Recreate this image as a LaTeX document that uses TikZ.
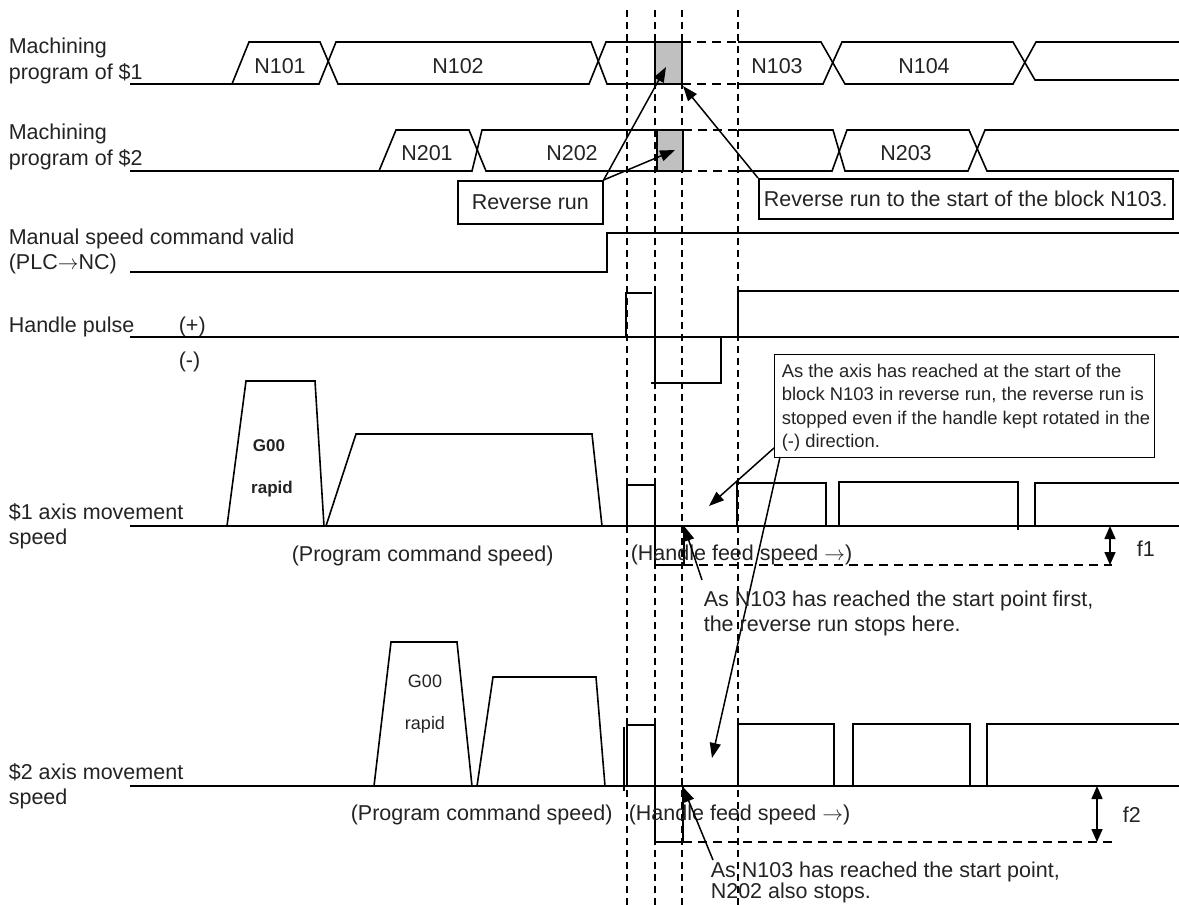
\documentclass[tikz,border=0pt]{standalone}
\usepackage{fontspec}
\setmainfont{Liberation Sans}
\usetikzlibrary{arrows.meta}
\definecolor{boxgray}{RGB}{192,192,192}
\definecolor{ink}{RGB}{35,35,35}
\newcommand{\rarr}{\ensuremath{\rightarrow}}
\begin{document}
\begin{tikzpicture}[x=1pt,y=-1pt,line width=1.6pt,line join=miter,
  vdash/.style={dash pattern=on 7pt off 5pt,line width=1.3pt},
  hdash/.style={dash pattern=on 9pt off 6pt,line width=1.6pt},
  lbl/.style={anchor=base west,inner sep=0pt,text=ink,font=\fontsize{21.5}{26}\selectfont},
  blbl/.style={anchor=base,inner sep=0pt,text=ink,font=\fontsize{21.5}{26}\selectfont},
  slbl/.style={anchor=base,inner sep=0pt,text=ink,font=\fontsize{18}{22}\selectfont},
  sbold/.style={anchor=base,inner sep=0pt,text=ink,font=\bfseries\fontsize{17}{22}\selectfont},
  cbox/.style={draw,line width=1.6pt,anchor=north west,inner sep=0pt,text=ink,font=\fontsize{21.5}{26}\selectfont},
  arr/.style={line width=1.5pt,-{Triangle[length=15pt,width=11pt]}},
  darr/.style={line width=1.5pt,{Triangle[length=13pt,width=11pt]}-{Triangle[length=13pt,width=11pt]}},
  gbox/.style={fill=boxgray,draw,line width=1.6pt}]
\useasboundingbox (0,0) rectangle (1179,905);

% ---------- left labels ----------
\node[lbl] (m1a) at (8,53) {Machining};
\node[lbl] (m1b) at (8,79) {program of \$1};
\node[lbl] (m2a) at (8,139) {Machining};
\node[lbl] (m2b) at (8,165) {program of \$2};
\node[lbl] (msc) at (8,244) {Manual speed command valid};
\node[lbl] (plc) at (8,269) {(PLC\rarr NC)};
\node[lbl] (hp) at (8,332) {Handle pulse};
\node[lbl] (plus) at (178,332) {(+)};
\node[lbl] (minus) at (178,367) {(-)};
\node[lbl] (ax1a) at (8,519) {\$1 axis movement};
\node[lbl] (ax1b) at (8,544) {speed};
\node[lbl] (ax2a) at (8,779) {\$2 axis movement};
\node[lbl] (ax2b) at (8,804) {speed};

% ---------- vertical dashed lines ----------
\foreach \vx in {627,655,682,738}
  \draw[vdash] (\vx,10) -- (\vx,905);

% ---------- program of $1 ----------
\draw[gbox] (655,42) rectangle (682,84);
\draw (130,84) -- (232,84) -- (249,42) -- (320,42) -- (338,84) -- (589,84) -- (606,42) -- (655,42);
\draw (232,84) -- (319,84) -- (336,42) -- (591,42) -- (607,84) -- (655,84);
\draw[hdash] (682,42) -- (738,42);
\draw[hdash] (682,84) -- (738,84);
\draw (738,42) -- (821,42) -- (845,84) -- (1013,84) -- (1036,42) -- (1179,42);
\draw (738,84) -- (823,84) -- (842,42) -- (1013,42) -- (1035,80) -- (1179,80);
\node[blbl] (n101) at (280,73) {N101};
\node[blbl] (n102) at (458,73) {N102};
\node[blbl] (n103) at (777,73) {N103};
\node[blbl] (n104) at (924,73) {N104};

% ---------- program of $2 ----------
\draw[gbox] (657,130) rectangle (683,171);
\draw (130,171) -- (379,171) -- (396,130) -- (469,130) -- (486,171) -- (657,171);
\draw (379,171) -- (472,171) -- (482,130) -- (657,130);
\draw[hdash] (683,130) -- (738,130);
\draw[hdash] (683,171) -- (738,171);
\draw (738,130) -- (833,130) -- (845,171) -- (968,171) -- (985,130) -- (1179,130);
\draw (738,171) -- (832,171) -- (847,130) -- (969,130) -- (987,171) -- (1179,171);
\node[blbl] (n201) at (427,160) {N201};
\node[blbl] (n202) at (572,160) {N202};
\node[blbl] (n203) at (906,160) {N203};

% ---------- callout boxes (top) ----------
\node[cbox,minimum width=145pt,minimum height=43pt] (rr) at (457,180) {Reverse run};
\node[cbox,minimum width=414pt,minimum height=40pt] (rrs) at (758,178) {Reverse run to the start of the block N103.};
\coordinate (g1tip) at (666,67);
\coordinate (g2tip) at (675,150);
\coordinate (g1end) at (683,86);
\draw[arr] (rr.north east) -- (g1tip);
\draw[arr] (rr.north east) -- (g2tip);
\draw[arr] (rrs.north west) -- (g1end);

% ---------- manual speed command ----------
\draw (130,272) -- (607,272) -- (607,233) -- (1179,233);

% ---------- handle pulse ----------
\draw (130,337) -- (1179,337);
\draw (626,337) -- (626,293) -- (652,293);
\draw (655,293) -- (655,383);
\draw (651,383) -- (721,383) -- (721,337);
\draw (738,337) -- (738,291) -- (1179,291);

% ---------- $1 axis speed ----------
\draw (130,526) -- (1179,526);
\draw (227,526) -- (246,381) -- (315,381) -- (324,526);
\draw (326,526) -- (356,434) -- (592,434) -- (602,526);
\node[sbold] (g00a) at (269,451) {G00};
\node[sbold] (rapa) at (272,493) {rapid};
\draw (627,526) -- (627,485) -- (655,485) -- (655,565) -- (684,565) -- (684,526);
\draw[hdash] (684,565) -- (1112,565);
\draw (737,526) -- (737,483) -- (826,483) -- (826,526);
\draw (839,526) -- (839,482) -- (1018,482) -- (1018,530);
\draw (1035,526) -- (1035,483) -- (1179,483);
\coordinate (f1t) at (1110,526);
\coordinate (f1b) at (1110,565);
\draw[darr] (f1t) -- (f1b);
\node[lbl] (f1) at (1136,556) {f1};
\node[lbl] (pcs1) at (291,561) {(Program command speed)};
\node[lbl] (hfs1) at (630,560) {(Handle feed speed \rarr)};

% ---------- $2 axis speed ----------
\draw (130,786) -- (1179,786);
\draw (374,786) -- (391,642) -- (457,642) -- (472,786);
\draw (477,786) -- (493,677) -- (596,677) -- (605,786);
\node[slbl] (g00b) at (425,687) {G00};
\node[slbl] (rapb) at (425,729) {rapid};
\draw (624,727) -- (624,791);
\draw (627,786) -- (627,725) -- (655,725) -- (655,842) -- (683,842) -- (683,786);
\draw[hdash] (683,842) -- (1112,842);
\draw (738,786) -- (738,724) -- (834,724) -- (834,786);
\draw (853,786) -- (853,724) -- (970,724) -- (970,786);
\draw (987,786) -- (987,724) -- (1179,724);
\coordinate (f2t) at (1097,786);
\coordinate (f2b) at (1097,842);
\draw[darr] (f2t) -- (f2b);
\node[lbl] (f2) at (1122,822) {f2};
\node[lbl] (pcs2) at (350,820) {(Program command speed)};
\node[lbl] (hfs2) at (628,820) {(Handle feed speed \rarr)};

% ---------- explanation box ----------
\node[draw,line width=1.2pt,anchor=north west,minimum width=380pt,minimum height=103pt,inner sep=0pt] (axbox) at (774,354) {};
\node[anchor=north west,align=left,inner sep=0pt,text=ink,font=\fontsize{18.4}{23.5}\selectfont] (axtext) at (781,363)
  {As the axis has reached at the start of the\\block N103 in reverse run, the reverse run is\\stopped even if the handle kept rotated in the\\(-) direction.};
\coordinate (ax1s) at (774,448);
\coordinate (ax2s) at (780,457);
\coordinate (t1tip) at (709,506);
\coordinate (t2tip) at (712,758);
\draw[arr] (ax1s) -- (t1tip);
\draw[arr] (ax2s) -- (t2tip);

% ---------- lower notes ----------
\node[lbl] (nt1a) at (703,606) {As N103 has reached the start point first,};
\node[lbl] (nt1b) at (703,631) {the reverse run stops here.};
\coordinate (s1) at (702,580);
\coordinate (p1) at (684,526);
\draw[arr] (s1) -- (p1);
\node[lbl] (nt2a) at (710,877) {As N103 has reached the start point,};
\node[lbl] (nt2b) at (710,898) {N202 also stops.};
\coordinate (s2) at (713,860);
\coordinate (p2) at (683,787);
\draw[arr] (s2) -- (p2);
\end{tikzpicture}
\end{document}
